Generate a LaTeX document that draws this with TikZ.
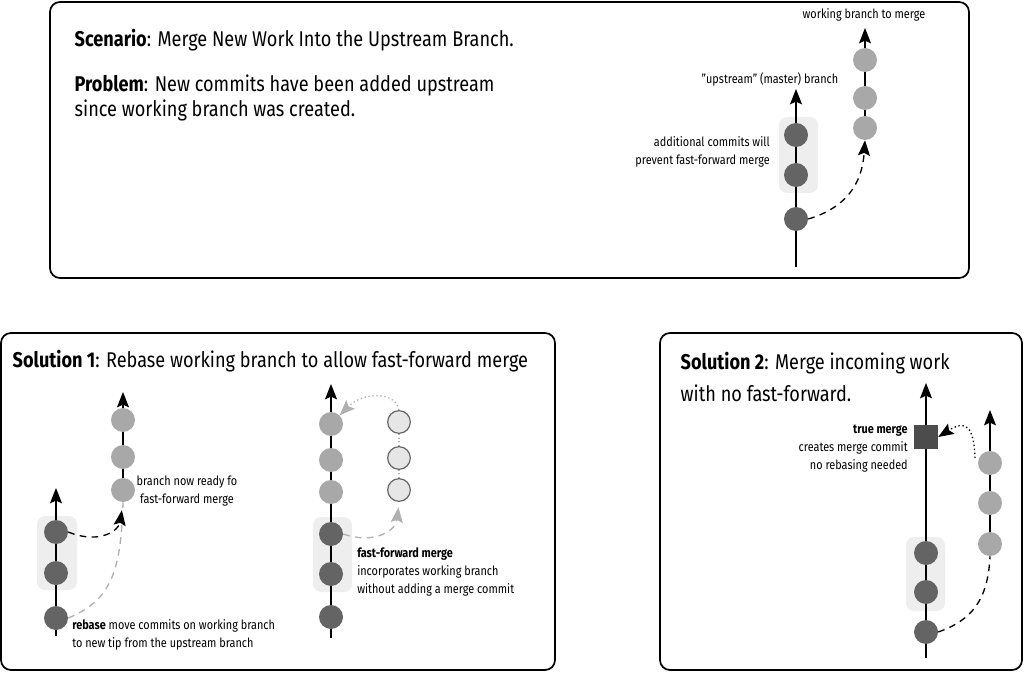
\documentclass[tikz,border=0pt]{standalone}
\usepackage{fontspec}
\setmainfont{Fira Sans}[FakeStretch=0.85]
\usetikzlibrary{arrows.meta,positioning}
\definecolor{commitdark}{HTML}{646464}
\definecolor{commitlight}{HTML}{A8A8A8}
\definecolor{ghostfill}{HTML}{E6E6E6}
\definecolor{hlfill}{HTML}{EEEEEE}
\definecolor{tracegray}{HTML}{B0B0B0}
\tikzset{
	panel/.style={draw=black, line width=1.3pt, rounded corners=7.5pt},
	hlbox/.style={fill=hlfill, rounded corners=6pt},
	dark/.style={circle, fill=commitdark, minimum size=18pt, inner sep=0pt},
	light/.style={circle, fill=commitlight, minimum size=18pt, inner sep=0pt},
	ghost/.style={circle, fill=ghostfill, draw=black!60, line width=0.9pt, minimum size=17pt, inner sep=0pt},
	mergebox/.style={rectangle, fill=black!70, minimum size=18pt, inner sep=0pt},
	branch/.style={line width=1pt},
	headtip/.style={-{Stealth[length=11.5pt, width=9pt, inset=2pt]}},
	big/.style={font=\fontsize{16}{19}\selectfont},
	lbl/.style={font=\fontsize{9.6}{13.5}\selectfont, inner sep=0pt},
	dashlink/.style={line width=1pt, dash pattern=on 5pt off 4pt},
	graylink/.style={draw=tracegray, line width=1pt, dash pattern=on 5pt off 4pt},
}

\begin{document}
\begin{tikzpicture}[x=0.75pt, y=-0.75pt]
			%%%%% START %%%%%
			\useasboundingbox (0,0) rectangle (1024,673);
			
			%% scenario
			\draw[panel] (50,2) rectangle (969,278);
			\node[big, anchor=west] (scen) at (70,40) {\textbf{Scenario}: Merge New Work Into the Upstream Branch.};
			\node[big, anchor=north west, align=left] (prob) at (70,70) {\textbf{Problem}: New commits have been added upstream\\since working branch was created.};
			
			\fill[hlbox] (779,117) rectangle (818,193);
			\node[dark] (m1) at (796,219) {};
			\node[dark] (m2) at (796,175) {};
			\node[dark] (m3) at (796,135) {};
			\coordinate (mbot) at (796,267);
			\coordinate (mtip) at (796,89);
			\draw[branch] (mbot) -- (m1) -- (m2) -- (m3);
			\draw[branch, headtip] (m3) -- (mtip);
			
			\node[light] (w1) at (865,128) {};
			\node[light] (w2) at (865,98) {};
			\node[light] (w3) at (865,60) {};
			\coordinate (wtip) at (865,28);
			\draw[branch] (w1) -- (w2) -- (w3);
			\draw[branch, headtip] (w3) -- (wtip);
			
			\draw[dashlink, headtip] (m1.east) .. controls (845,208) and (862,185) .. (w1.south);
			
			\node[lbl] (uplbl) at (770,79) {"upstream" (master) branch};
			\node[lbl] (wlbl) at (864,15) {working branch to merge};
			\node[lbl, anchor=east, align=right] (addlbl) at (770,152) {additional commits will\\prevent fast-forward merge};
			
			%% solution 1
			\draw[panel] (1,333) rectangle (555,670);
			\node[big, anchor=west] (sol1) at (8,361) {\textbf{Solution 1}: Rebase working branch to allow fast-forward merge};
			
			\fill[hlbox] (37,516) rectangle (77,590);
			\node[dark] (r1) at (56,618) {};
			\node[dark] (r2) at (56,573) {};
			\node[dark] (r3) at (56,532) {};
			\coordinate (rbot) at (56,636);
			\coordinate (rtip) at (56,488);
			\draw[branch] (rbot) -- (r1) -- (r2) -- (r3);
			\draw[branch, headtip] (r3) -- (rtip);
			
			\node[light] (n1) at (123,490) {};
			\node[light] (n2) at (123,457) {};
			\node[light] (n3) at (123,420) {};
			\coordinate (ntip) at (123,392);
			\draw[branch] (n1) -- (n2) -- (n3);
			\draw[branch, headtip] (n3) -- (ntip);
			
			\draw[graylink] (r1.east) .. controls (112,600) and (121,570) .. (n1.south);
			\draw[dashlink, headtip, shorten >=6pt] (r3.east) .. controls (100,545) and (119,530) .. (n1.south);
			
			\node[lbl, align=center] (readylbl) at (187,491) {branch now ready fo\\fast-forward merge};
			\node[lbl, anchor=north west, align=left] (rebaselbl) at (72,619) {\textbf{rebase} move commits on working branch\\to new tip from the upstream branch};
			
			\fill[hlbox] (313,517) rectangle (352,592);
			\node[dark] (f1) at (331,617) {};
			\node[dark] (f2) at (331,574) {};
			\node[dark] (f3) at (331,534) {};
			\node[light] (f4) at (331,492) {};
			\node[light] (f5) at (331,460) {};
			\node[light] (f6) at (331,424) {};
			\coordinate (fbot) at (331,638);
			\coordinate (ftip) at (331,384);
			\draw[branch] (fbot) -- (f1) -- (f2) -- (f3) -- (f4) -- (f5) -- (f6);
			\draw[branch, headtip] (f6) -- (ftip);
			
			\node[ghost] (g1) at (399,490) {};
			\node[ghost] (g2) at (399,458) {};
			\node[ghost] (g3) at (399,422) {};
			\draw[draw=tracegray, dotted, line width=0.8pt] (g1) -- (g2) -- (g3);
			
			\draw[graylink, headtip, shorten >=4pt] (f3.east) .. controls (375,545) and (396,530) .. (g1.south);
			\draw[draw=tracegray, line width=1pt, dotted, headtip] (g3.north) .. controls (397,393) and (365,390) .. (f6.north east);
			
			\node[lbl, anchor=north west, align=left] (fflbl) at (357,548) {\textbf{fast-forward merge}\\incorporates working branch\\without adding a merge commit};
			
			%% solution 2
			\draw[panel] (660,333) rectangle (1022,670);
			\node[big, anchor=north west, align=left] (sol2) at (676,347) {\textbf{Solution 2}: Merge incoming work\\[5pt]with no fast-forward.};
			
			\fill[hlbox] (906,537) rectangle (945,611);
			\node[dark] (t1) at (926,632) {};
			\node[dark] (t2) at (926,592) {};
			\node[dark] (t3) at (926,553) {};
			\node[mergebox] (tm) at (926,437) {};
			\coordinate (tbot) at (926,658);
			\coordinate (ttip) at (926,383);
			\draw[branch] (tbot) -- (t1) -- (t2) -- (t3) -- (tm);
			\draw[branch, headtip] (tm) -- (ttip);
			
			\node[light] (s1) at (990,544) {};
			\node[light] (s2) at (990,503) {};
			\node[light] (s3) at (990,463) {};
			\coordinate (stip) at (990,410);
			\draw[branch] (s1) -- (s2) -- (s3);
			\draw[branch, headtip] (s3) -- (stip);
			
			\draw[dashlink] (t1.east) .. controls (972,620) and (988,600) .. (s1.south);
			\draw[line width=1pt, dotted, headtip] (975,458) .. controls (974,425) and (965,420) .. (tm.east);
			
			\node[lbl, anchor=north east, align=right] (truelbl) at (908,425) {\textbf{true merge}\\creates merge commit\\no rebasing needed};
			%%%%% END %%%%%
\end{tikzpicture}
\end{document}
